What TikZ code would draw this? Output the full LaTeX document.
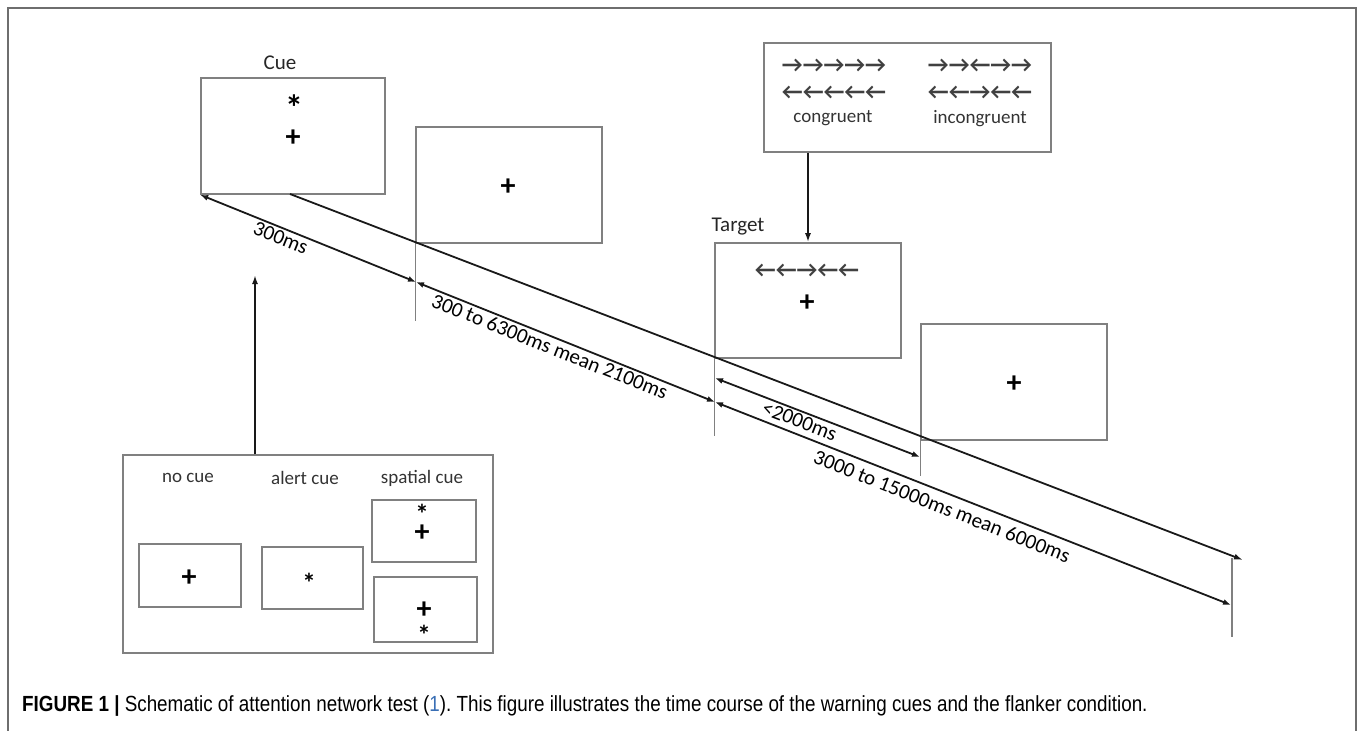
\documentclass[tikz,border=0pt]{standalone}
\usepackage{fontspec}
\setmainfont{Carlito}
\newfontfamily\capfont[FakeStretch=0.86]{Liberation Sans}
\usepackage{xcolor}
\usetikzlibrary{arrows.meta}
\definecolor{boxgray}{HTML}{808080}
\definecolor{framegray}{HTML}{6E6E6E}
\definecolor{linkblue}{HTML}{3A6FB5}
\frenchspacing

\begin{document}
\begin{tikzpicture}[x=1pt, y=-1pt,
      screen/.style={draw=boxgray, line width=1.6pt, inner sep=0pt,
        minimum width=186pt, minimum height=116pt},
      minibox/.style={draw=boxgray, line width=1.5pt, inner sep=0pt},
      heading/.style={font=\fontsize{21}{25}\selectfont, text=black!85},
      small/.style={font=\fontsize{19}{23}\selectfont, text=black!80},
      arrowrow/.style={font=\bfseries\fontsize{23}{25}\selectfont, text=black!75, inner sep=0pt},
      crossmark/.style={font=\bfseries\fontsize{30}{32}\selectfont, inner sep=0pt},
      starmark/.style={font=\bfseries\fontsize{36}{38}\selectfont, inner sep=0pt},
      smallstar/.style={font=\bfseries\fontsize{27}{30}\selectfont, inner sep=0pt},
      time/.style={line width=1.8pt, draw=black!90,
        {Latex[length=8pt,width=6pt]}-{Latex[length=8pt,width=6pt]}},
      conn/.style={line width=1.8pt, draw=black!90, -{Latex[length=9pt,width=6pt]}},
      tick/.style={draw=boxgray, line width=1.4pt},
      dur/.style={sloped, below, inner sep=2pt, font=\fontsize{21}{25}\selectfont}]
  \useasboundingbox (0,0) rectangle (1358,731);
  \draw[framegray, line width=1.5pt] (8,731) -- (8,8) -- (1356,8) -- (1356,731);

  % screens of one trial
  \node[screen, minimum width=184pt] (cue) at (293,136) {};
  \node[heading] (cuelabel) at (280,63) {Cue};
  \node[starmark] (cuestar) at (294,108) {*};
  \node[crossmark] (cuecross) at (293,138) {+};

  \node[screen] (fixation) at (509,185) {};
  \node[crossmark] (fixcross) at (508,187) {+};

  \node[screen, minimum height=115pt] (target) at (808,300.5) {};
  \node[heading] (targetlabel) at (738,227) {Target};
  \node[arrowrow] (targetrow) at (807,271) {←←→←←};
  \node[crossmark] (targetcross) at (807,303) {+};

  \node[screen] (iti) at (1014,382) {};
  \node[crossmark] (iticross) at (1014,384) {+};

  % flanker conditions
  \node[minibox, minimum width=287pt, minimum height=109pt] (flankers) at (907.5,97.5) {};
  \node[arrowrow] (congr1) at (834,66) {→→→→→};
  \node[arrowrow] (congr2) at (834,93) {←←←←←};
  \node[small] (congr) at (833,118) {congruent};
  \node[arrowrow] (incongr1) at (980,66) {→→←→→};
  \node[arrowrow] (incongr2) at (980,93) {←←→←←};
  \node[small] (incongr) at (980,119) {incongruent};
  \draw[conn] (flankers.south -| target.north) -- (target.north);

  % cue conditions
  \node[minibox, minimum width=370pt, minimum height=198pt] (cuetypes) at (308,554) {};
  \node[small] (nocuelabel) at (188,478) {no cue};
  \node[small] (alertlabel) at (305,478) {alert cue};
  \node[small] (spatiallabel) at (422,478) {spatial cue};
  \node[minibox, minimum width=102pt, minimum height=63pt] (nocue) at (190,575.5) {};
  \node[crossmark] at (189,578) {+};
  \node[minibox, minimum width=101pt, minimum height=62pt] (alertcue) at (312.5,578) {};
  \node[smallstar] at (309,583) {*};
  \node[minibox, minimum width=104pt, minimum height=62pt] (spatialup) at (424,531) {};
  \node[smallstar] at (422,514) {*};
  \node[crossmark] at (422,533) {+};
  \node[minibox, minimum width=103pt, minimum height=65pt] (spatialdn) at (425.5,609.5) {};
  \node[crossmark] at (424,610) {+};
  \node[smallstar] at (424,635) {*};
  \coordinate (cuetip) at (255,275);
  \draw[conn] (cuetypes.north -| cuetip) -- (cuetip);

  % time course
  \coordinate (t1) at (416,282);
  \coordinate (t2) at (715,402);
  \coordinate (t3) at (1231,605);
  \coordinate (r0) at (715,378);
  \coordinate (r1) at (920,457);
  \coordinate (u0) at (290,194);
  \coordinate (u1) at (1243,560);
  \draw[tick] (fixation.south west) -- ++(0,77);
  \draw[tick] (target.south west) -- ++(0,77);
  \draw[tick] (iti.south west) -- ++(0,35);
  \draw[tick] (1232,558) -- (1232,637);
  \draw[conn] (u0) -- (u1);
  \draw[time] (cue.south west) -- node[dur, pos=0.39] {300ms} (t1);
  \draw[time] (t1) -- node[dur, pos=0.46] {300 to 6300ms mean 2100ms} (t2);
  \draw[time] (r0) -- node[dur, pos=0.43] {<2000ms} (r1);
  \draw[time] (t2) -- node[dur, pos=0.45, below=4pt] {3000 to 15000ms mean 6000ms} (t3);

  \node[anchor=west, inner sep=0pt, font=\capfont\fontsize{21.9}{25}\selectfont] (caption) at (22,706)
    {\textbf{FIGURE 1 |} Schematic of attention network test (\textcolor{linkblue}{1}). This figure illustrates the time course of the warning cues and the flanker condition.};
\end{tikzpicture}
\end{document}
